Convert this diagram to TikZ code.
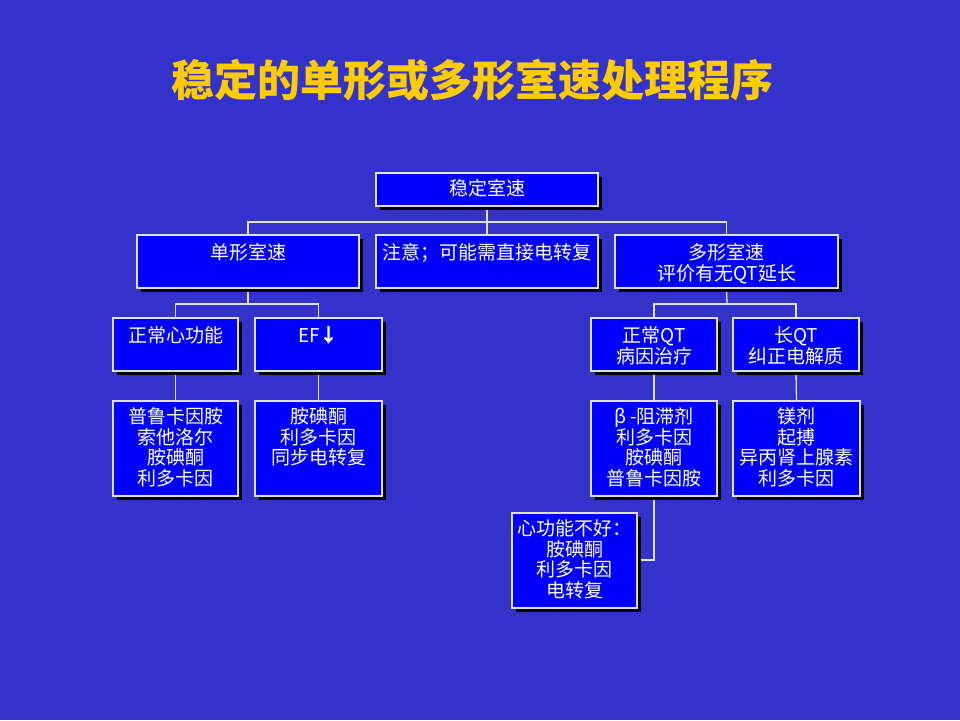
\documentclass[tikz,border=0pt]{standalone}
\usepackage{fontspec}
\newfontfamily\cjk{Noto Sans CJK SC}
\usetikzlibrary{shadows,backgrounds}
\definecolor{bg}{RGB}{51,51,204}
\definecolor{boxblue}{RGB}{0,0,255}
\definecolor{edge}{RGB}{225,225,235}
\definecolor{titleyellow}{RGB}{255,204,0}
\tikzset{
  box/.style={rectangle, draw=edge, fill=boxblue, line width=1.3pt, inner sep=0pt,
    drop shadow={shadow xshift=4pt, shadow yshift=-4pt, fill=black, opacity=1}},
  lbl/.style={anchor=north, text=white, align=center, inner sep=0pt,
    font=\cjk\fontsize{19}{20.7}\selectfont},
  conn/.style={draw=edge, line width=1.3pt}
}
\begin{document}
\begin{tikzpicture}[x=1pt,y=-1pt]
\useasboundingbox (0,0) rectangle (960,720);
\node[text=titleyellow, font=\cjk\bfseries\fontsize{43}{46}\selectfont] (title) at (472,80) {稳定的单形或多形室速处理程序};
% level 0
\node[box, minimum width=222pt, minimum height=33pt] (top) at (487,189.5) {};
% level 1
\node[box, minimum width=222pt, minimum height=53pt] (mono) at (248,261.5) {};
\node[box, minimum width=222pt, minimum height=53pt] (note) at (487,261.5) {};
\node[box, minimum width=223pt, minimum height=53pt] (poly) at (726.5,261.5) {};
% level 2
\node[box, minimum width=125pt, minimum height=53pt] (ncf) at (175.5,344.5) {};
\node[box, minimum width=127pt, minimum height=53pt] (ef) at (318.5,344.5) {};
\node[box, minimum width=126pt, minimum height=53pt] (nqt) at (654,344.5) {};
\node[box, minimum width=126pt, minimum height=53pt] (lqt) at (796,344.5) {};
% level 3
\node[box, minimum width=125pt, minimum height=95pt] (d1) at (175.5,448.5) {};
\node[box, minimum width=127pt, minimum height=95pt] (d2) at (318.5,448.5) {};
\node[box, minimum width=126pt, minimum height=95pt] (d3) at (654,448.5) {};
\node[box, minimum width=127pt, minimum height=95pt] (d4) at (796.5,448.5) {};
% level 4
\node[box, minimum width=125pt, minimum height=95pt] (d5) at (574.5,560.5) {};
% labels
\node[lbl] (ttop) at ([yshift=-7pt]top.north) {稳定室速};
\node[lbl] (tmono) at ([yshift=-9pt]mono.north) {单形室速};
\node[lbl] (tnote) at ([yshift=-9pt]note.north) {注意；可能需直接电转复};
\node[lbl] (tpoly) at ([yshift=-9pt]poly.north) {多形室速\\评价有无QT延长};
\node[lbl] (tncf) at ([yshift=-9pt]ncf.north) {正常心功能};
\node[lbl] (tef) at ([yshift=-9pt]ef.north) {EF\textbf{↓}};
\node[lbl] (tnqt) at ([yshift=-9pt]nqt.north) {正常QT\\病因治疗};
\node[lbl] (tlqt) at ([yshift=-9pt]lqt.north) {长QT\\纠正电解质};
\node[lbl] (td1) at ([yshift=-7pt]d1.north) {普鲁卡因胺\\索他洛尔\\胺碘酮\\利多卡因};
\node[lbl] (td2) at ([yshift=-7pt]d2.north) {胺碘酮\\利多卡因\\同步电转复};
\node[lbl] (td3) at ([yshift=-7pt]d3.north) {β -阻滞剂\\利多卡因\\胺碘酮\\普鲁卡因胺};
\node[lbl] (td4) at ([yshift=-7pt]d4.north) {镁剂\\起搏\\异丙肾上腺素\\利多卡因};
\node[lbl] (td5) at ([yshift=-7pt]d5.north) {心功能不好：\\胺碘酮\\利多卡因\\电转复};
% connectors
\coordinate (j0) at (487,222);
\coordinate (j1) at (248,304);
\coordinate (j2) at (727,304);
\coordinate (j3) at (654,560);
\begin{scope}[on background layer]
\fill[bg] (0,0) rectangle (960,720);
\draw[conn] (top.south) -- (top.south |- j0);
\draw[conn] (note.north) -- (note.north |- j0);
\draw[conn] (mono.north) -- (mono.north |- j0) -- (poly.north |- j0) -- (poly.north);
\draw[conn] (mono.south) -- (j1);
\draw[conn] (ncf.north) -- (ncf.north |- j1) -- (ef.north |- j1) -- (ef.north);
\draw[conn] (poly.south) -- (j2);
\draw[conn] (nqt.north) -- (nqt.north |- j2) -- (lqt.north |- j2) -- (lqt.north);
\draw[conn] (ncf.south) -- (d1.north);
\draw[conn] (ef.south) -- (d2.north);
\draw[conn] (nqt.south) -- (d3.north);
\draw[conn] (lqt.south) -- (d4.north);
\draw[conn] (d3.south) -- (j3) -- (d5.east |- j3);
\end{scope}
\end{tikzpicture}
\end{document}
